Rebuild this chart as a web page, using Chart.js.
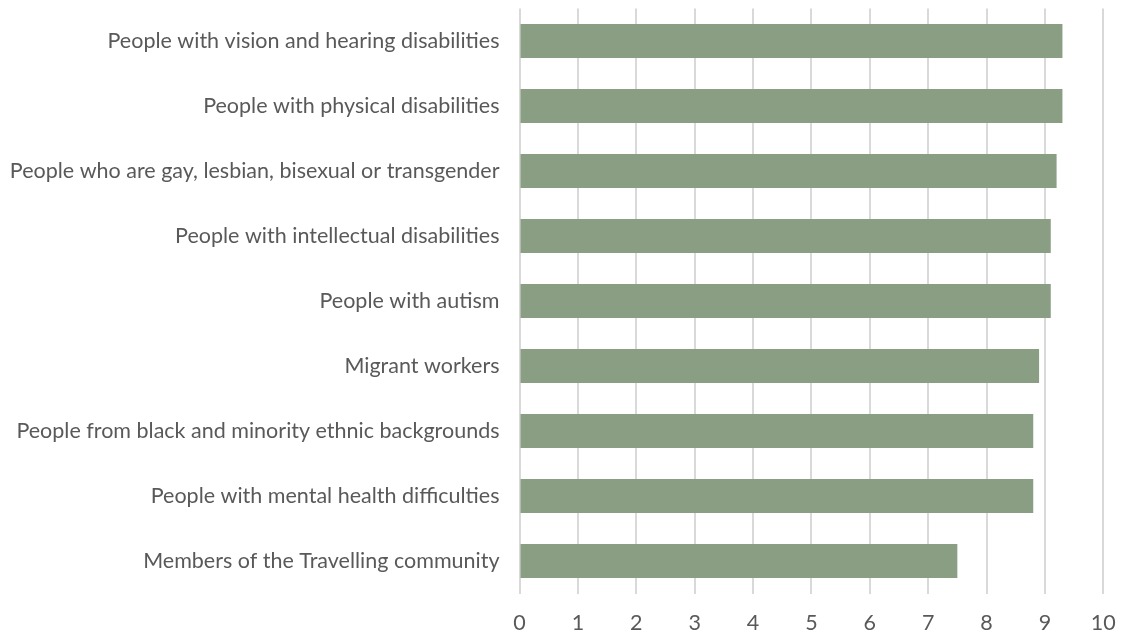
<!DOCTYPE html>
<html>
<head>
<meta charset="utf-8">
<script src="https://cdn.jsdelivr.net/npm/chart.js@4/dist/chart.umd.min.js"></script>
<style>
  html, body { margin: 0; padding: 0; background: #fff; }
</style>
</head>
<body>
<canvas id="chart" width="1122" height="637"></canvas>
<script>
const groups = [
    'People with vision and hearing disabilities',
    'People with physical disabilities',
    'People who are gay, lesbian, bisexual or transgender',
    'People with intellectual disabilities',
    'People with autism',
    'Migrant workers',
    'People from black and minority ethnic backgrounds',
    'People with mental health difficulties',
    'Members of the Travelling community'
];
const scores = [9.3, 9.3, 9.2, 9.1, 9.1, 8.9, 8.8, 8.8, 7.5];
const xTicks = [0, 1, 2, 3, 4, 5, 6, 7, 8, 9, 10];

const textColor = '#595959';
const gridColor = '#d9d9d9';
const barColor = '#8a9e83';
const labelFont = { family: 'Lato', size: 21.5 };

new Chart(document.getElementById('chart'), {
    type: 'bar',
    data: {
        labels: groups,
        datasets: [{
            data: scores,
            backgroundColor: barColor,
            borderWidth: 0,
            categoryPercentage: 1,
            barPercentage: 0.52
        }]
    },
    options: {
        indexAxis: 'y',
        responsive: false,
        animation: false,
        layout: { padding: { top: 8.5, right: 18.7, bottom: 0, left: 0 } },
        plugins: {
            legend: { display: false },
            tooltip: { enabled: false }
        },
        scales: {
            x: {
                min: 0,
                max: 10,
                afterBuildTicks: axis => {
                    axis.ticks = xTicks.map(v => ({ value: v }));
                },
                // fixed height, no extra room reserved for the end labels
                afterFit: axis => {
                    axis.height = 43.5;
                    axis.paddingLeft = 0;
                    axis.paddingRight = 0;
                },
                grid: {
                    color: gridColor,
                    lineWidth: 2,
                    drawTicks: false
                },
                border: { display: false },
                ticks: {
                    color: textColor,
                    padding: 17,
                    font: labelFont
                }
            },
            y: {
                grid: { display: false, drawTicks: false },
                border: { display: false },
                afterFit: axis => {
                    axis.width = 519.5;
                    axis.paddingTop = 0;
                    axis.paddingBottom = 0;
                },
                ticks: {
                    color: textColor,
                    padding: 20,
                    font: labelFont
                }
            }
        }
    }
});
</script>
</body>
</html>
